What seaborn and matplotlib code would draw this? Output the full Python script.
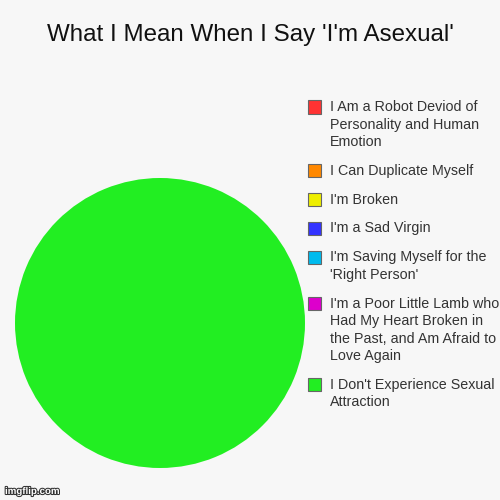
import matplotlib
matplotlib.use('Agg')
import matplotlib.pyplot as plt
import matplotlib.patheffects as pe
from matplotlib.patches import Rectangle
import seaborn as sns

# chart data
labels = ["I Am a Robot Deviod of\nPersonality and Human\nEmotion",
          "I Can Duplicate Myself",
          "I'm Broken",
          "I'm a Sad Virgin",
          "I'm Saving Myself for the\n'Right Person'",
          "I'm a Poor Little Lamb who\nHad My Heart Broken in\nthe Past, and Am Afraid to\nLove Again",
          "I Don't Experience Sexual\nAttraction"]
values = [0, 0, 0, 0, 0, 0, 1]
colors = ['#ff3333', '#ff8800', '#eeee00', '#3333ff', '#00bbee', '#dd00cc', '#22ee22']

sns.set_theme(style='white')
plt.rcParams['font.family'] = ['Liberation Sans', 'DejaVu Sans']

W = H = 500
fig = plt.figure(figsize=(5, 5), dpi=100, facecolor='#f7f7f7')
ax = fig.add_axes([0.03, 0.064, 0.58, 0.58])
ax.set_facecolor('#f7f7f7')
wedges, _ = ax.pie(values, colors=colors, startangle=90, counterclock=False,
                   wedgeprops={'linewidth': 0})
ax.set_xlim(-1.0, 1.0)
ax.set_ylim(-1.0, 1.0)
ax.set_aspect('equal')
ax.axis('off')

fig.text(0.5, 1 - 35 / H, "What I Mean When I Say 'I'm Asexual'", ha='center', va='center',
         fontsize=17.4, color='#111111')

# legend drawn by hand so swatches line up with the first text line
y = 107
line_h = 17.5
gap = 28.8
for w, lab in zip(wedges, labels):
    fig.patches.append(Rectangle((308 / W, 1 - (y + 6.5) / H), 13 / W, 13 / H,
                                 transform=fig.transFigure, facecolor=w.get_facecolor(),
                                 edgecolor='#666666', linewidth=0.8))
    lines = lab.split('\n')
    for i, ln in enumerate(lines):
        fig.text(330 / W, 1 - (y + i * line_h) / H, ln, ha='left', va='center',
                 fontsize=10.3, color='#333333')
    y += (len(lines) - 1) * line_h + gap

fig.text(0.01, 0.012, 'imgflip.com', fontsize=7, color='white', fontweight='bold',
         path_effects=[pe.withStroke(linewidth=1.5, foreground='#333333')])

fig.savefig('out.png', dpi=100, facecolor=fig.get_facecolor())
